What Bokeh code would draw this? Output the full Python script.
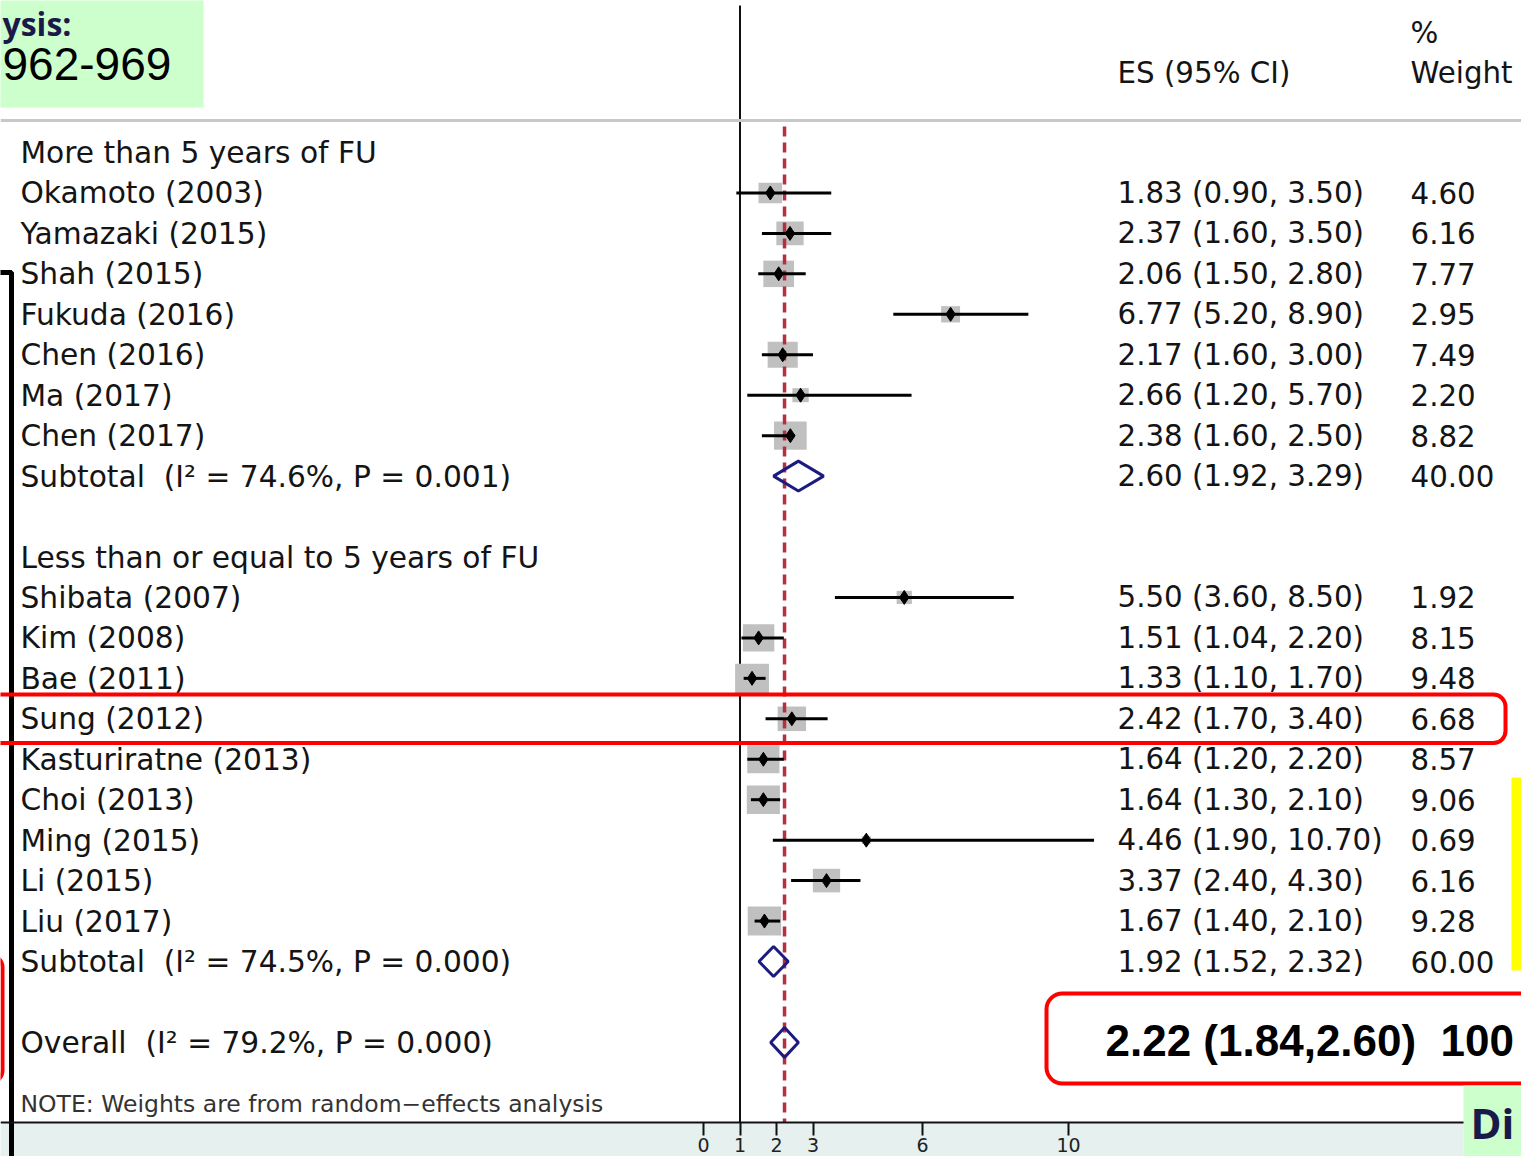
import numpy as np
from bokeh.plotting import figure
from bokeh.models import (Range1d, BoxAnnotation, Span, Label, FixedTicker,
                          ColumnDataSource, LinearAxis)
from bokeh.core.properties import value
from bokeh.embed import file_html
from bokeh.resources import INLINE

# ---------------- data ----------------
group_labels = ["More than 5 years of FU", "Less than or equal to 5 years of FU"]
group_rows = [0, 10]

studies = ["Okamoto (2003)", "Yamazaki (2015)", "Shah (2015)", "Fukuda (2016)",
           "Chen (2016)", "Ma (2017)", "Chen (2017)",
           "Shibata (2007)", "Kim (2008)", "Bae (2011)", "Sung (2012)",
           "Kasturiratne (2013)", "Choi (2013)", "Ming (2015)", "Li (2015)", "Liu (2017)"]
study_rows = [1, 2, 3, 4, 5, 6, 7, 11, 12, 13, 14, 15, 16, 17, 18, 19]
es = [1.83, 2.37, 2.06, 6.77, 2.17, 2.66, 2.38,
      5.50, 1.51, 1.33, 2.42, 1.64, 1.64, 4.46, 3.37, 1.67]
ci_lo = [0.90, 1.60, 1.50, 5.20, 1.60, 1.20, 1.60,
         3.60, 1.04, 1.10, 1.70, 1.20, 1.30, 1.90, 2.40, 1.40]
ci_hi = [3.50, 3.50, 2.80, 8.90, 3.00, 5.70, 2.50,
         8.50, 2.20, 1.70, 3.40, 2.20, 2.10, 10.70, 4.30, 2.10]
weight = [4.60, 6.16, 7.77, 2.95, 7.49, 2.20, 8.82,
          1.92, 8.15, 9.48, 6.68, 8.57, 9.06, 0.69, 6.16, 9.28]

NB = "\u00a0"
sub_labels = [f"Subtotal{NB}{NB}(I² = 74.6%, P = 0.001)", f"Subtotal{NB}{NB}(I² = 74.5%, P = 0.000)"]
sub_rows = [8, 20]
sub_es = [2.60, 1.92]
sub_lo = [1.92, 1.52]
sub_hi = [3.29, 2.32]
sub_weight = [40.00, 60.00]

overall_label = f"Overall{NB}{NB}(I² = 79.2%, P = 0.000)"
overall_row = 22
overall_es = 2.22
overall_lo = 1.84
overall_hi = 2.60
overall_weight_shown = "100"

highlight_study = "Sung (2012)"
note_text = "NOTE: Weights are from random\u2212effects analysis"
x_ticks = [0, 1, 2, 3, 6, 10]

# ------------- pixel helpers for decorations -------------
X0, XS, Y0, YS = 703.0, 36.5, 152.0, 40.45
def fx(px):
    return (px - X0) / XS
def fy(py):
    return (py - Y0) / YS

W, H = 1521, 1156
FONT = value("DejaVu Sans")
TXT = "#141414"
NAVY = "#1c1c80"

p = figure(width=W, height=H, output_backend="svg", toolbar_location=None,
           x_range=Range1d(fx(0), fx(W)), y_range=Range1d(fy(H), fy(0)),
           x_axis_location=None, y_axis_location=None, min_border=0)
p.xgrid.visible = False
p.ygrid.visible = False
p.outline_line_color = None
p.background_fill_color = "white"
p.border_fill_color = "white"

# ------------- decorations (underlay) -------------
p.add_layout(BoxAnnotation(left=fx(-20), right=fx(1463), top=fy(1123), bottom=fy(1250),
                           fill_color="#e5f0ef", fill_alpha=1, line_color=None, level="underlay"))
p.add_layout(BoxAnnotation(left=fx(-20), right=fx(203), top=fy(-20), bottom=fy(107),
                           fill_color="#ccffcc", fill_alpha=1, line_color=None, level="underlay"))
p.add_layout(BoxAnnotation(left=fx(1046), right=fx(1580), top=fy(993), bottom=fy(1083),
                           fill_color="white", fill_alpha=1, line_color="#ff0000", line_alpha=1,
                           line_width=4, border_radius=16, level="underlay"))
p.add_layout(BoxAnnotation(left=fx(-300), right=fx(2), top=fy(955), bottom=fy(1082),
                           fill_alpha=0, line_color="#ff0000", line_alpha=1,
                           line_width=4, border_radius=12, level="underlay"))
p.add_layout(BoxAnnotation(left=fx(1511), right=fx(1580), top=fy(777), bottom=fy(970),
                           fill_color="#ffff00", fill_alpha=1, line_color=None, level="underlay"))

# header rule
p.add_layout(Span(location=fy(120), dimension="width", line_color="#c8c8c8", line_width=3))

# bracket on the left
p.line(x=[fx(-5), fx(11), fx(11)], y=[fy(272), fy(272), fy(1250)], line_color="black", line_width=5)

# ------------- axis -------------
xa = LinearAxis(fixed_location=fy(1122), ticker=FixedTicker(ticks=x_ticks))
xa.axis_line_width = 2
xa.axis_line_color = "#111111"
xa.major_tick_line_width = 2
xa.major_tick_line_color = "#111111"
xa.major_tick_in = 0
xa.major_tick_out = 13
xa.minor_tick_line_color = None
xa.major_label_standoff = 2
xa.major_label_text_font = "DejaVu Sans"
xa.major_label_text_font_size = "19px"
xa.major_label_text_color = "#222222"
p.add_layout(xa, "below")

# ------------- plot marks -------------
src = ColumnDataSource(dict(
    es=es, lo=ci_lo, hi=ci_hi, row=study_rows, label=studies,
    es_text=[f"{e:.2f} ({l:.2f}, {h:.2f})" for e, l, h in zip(es, ci_lo, ci_hi)],
    w_text=[f"{w:.2f}" for w in weight],
    box_w=[11.0 * np.sqrt(w) for w in weight],
    box_h=[9.5 * np.sqrt(w) for w in weight],
))

# null line at 1
p.segment(x0=1, x1=1, y0=fy(5), y1=fy(1122), line_color="#111111", line_width=2)

p.rect(x="es", y="row", width="box_w", height="box_h", width_units="screen",
       height_units="screen", fill_color="#c0c0c0", line_color=None, source=src)

# overall effect dashed line
p.segment(x0=overall_es, x1=overall_es, y0=fy(126), y1=fy(1122),
          line_color="#b3303e", line_width=3.5, line_dash="10 6")

p.segment(x0="lo", x1="hi", y0="row", y1="row", line_color="black", line_width=3, source=src)
p.scatter(x="es", y="row", marker="diamond", size=14, color="black", source=src)

# pooled diamonds
dia_es = sub_es + [overall_es]
dia_lo = sub_lo + [overall_lo]
dia_hi = sub_hi + [overall_hi]
dia_rows = sub_rows + [overall_row]
hh = 0.37
p.patches(xs=[[l, e, h, e] for l, e, h in zip(dia_lo, dia_es, dia_hi)],
          ys=[[r, r - hh, r, r + hh] for r in dia_rows],
          fill_alpha=0, line_color=NAVY, line_width=3)

# highlighted study row
sung_row = study_rows[studies.index(highlight_study)]
p.add_layout(BoxAnnotation(left=fx(-40), right=fx(1505), top=sung_row - 0.6, bottom=sung_row + 0.6,
                           fill_alpha=0, line_color="#ff0000", line_alpha=1, line_width=4,
                           border_radius=12))

# ------------- texts -------------
tstyle = dict(text_font=FONT, text_font_size="29.7px", text_color=TXT, text_baseline="middle")
nstyle = dict(text_font=FONT, text_font_size="29.3px", text_color=TXT, text_baseline="middle")
p.text(x=fx(20), y="row", text="label", source=src, **tstyle)
p.text(x=fx(1117), y="row", text="es_text", source=src, **nstyle)
p.text(x=fx(1410), y="row", text="w_text", source=src, **nstyle)

p.text(x=fx(20), y=group_rows, text=group_labels, **tstyle)
p.text(x=fx(20), y=sub_rows, text=sub_labels, **tstyle)
p.text(x=fx(1117), y=sub_rows,
       text=[f"{e:.2f} ({l:.2f}, {h:.2f})" for e, l, h in zip(sub_es, sub_lo, sub_hi)], **nstyle)
p.text(x=fx(1410), y=sub_rows, text=[f"{w:.2f}" for w in sub_weight], **nstyle)
p.text(x=fx(20), y=[overall_row], text=[overall_label], **tstyle)

# headers
p.text(x=fx(1117), y=[fy(72)], text=["ES (95% CI)"], **nstyle)
p.text(x=fx(1410), y=[fy(72)], text=["Weight"], **nstyle)
p.text(x=fx(1410), y=[fy(32)], text=["%"], **nstyle)

# note
p.text(x=fx(20), y=[fy(1103)], text=[note_text], text_font=FONT, text_font_size="23.5px",
       text_color="#333333", text_baseline="middle")

# highlighted overall result
p.text(x=fx(1105), y=[fy(1040)],
       text=[f"{overall_es:.2f} ({overall_lo:.2f},{overall_hi:.2f}){NB}{NB}{overall_weight_shown}"],
       text_font=value("Liberation Sans"), text_font_style="bold", text_font_size="44px",
       text_color="black", text_baseline="middle")

# slide fragments
p.text(x=fx(2), y=[fy(63)], text=["962-969"], text_font=value("Liberation Sans"),
       text_font_size="46px", text_color="black", text_baseline="middle")
p.text(x=fx(2), y=[fy(1)], text=["ysis:"], text_font=value("Open Sans"), text_font_style="bold",
       text_font_size="32px", text_color="#1a1a4a", text_baseline="top")

# bottom-right slide fragment (drawn over the axis)
p.add_layout(BoxAnnotation(left=fx(1463), right=fx(1600), top=fy(1085), bottom=fy(1250),
                           fill_color="#ccffcc", fill_alpha=1, line_color=None))
p.add_layout(Label(x=fx(1470), y=fy(1150), text="Di", text_font="Open Sans", text_font_style="bold",
                   text_font_size="42px", text_color="#1a1a4a", text_align="left",
                   text_baseline="bottom"))

open("out.html", "w").write(file_html(p, INLINE))
